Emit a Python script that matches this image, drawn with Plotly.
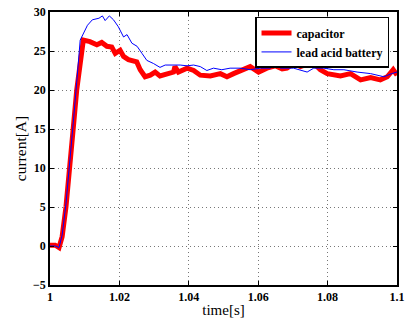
import plotly.graph_objects as go

# capacitor (red)
cap_t = [1.0, 1.0015, 1.0026, 1.0035, 1.0046, 1.0058, 1.0067, 1.0077, 1.0087, 1.0096,
         1.0115, 1.0135, 1.0149, 1.0164, 1.0178, 1.0188, 1.0202, 1.0212, 1.0226, 1.024,
         1.025, 1.026, 1.0274, 1.0289, 1.0303, 1.0317, 1.0337, 1.0356, 1.036, 1.037,
         1.0395, 1.0414, 1.0433, 1.0462, 1.0491, 1.051, 1.0529, 1.0558, 1.0577, 1.0601,
         1.0625, 1.0649, 1.0669, 1.0683, 1.0702, 1.0722, 1.0741, 1.0765, 1.0779, 1.0799,
         1.0837, 1.0866, 1.0895, 1.0924, 1.0952, 1.0972, 1.0989, 1.1]
cap_i = [0.1, 0.1, -0.2, 1.2, 5.0, 10.2, 15.1, 20.0, 23.5, 26.4,
         26.2, 25.8, 26.1, 25.6, 25.5, 24.7, 25.1, 24.3, 23.9, 23.8,
         23.6, 22.6, 21.7, 21.9, 22.3, 21.8, 22.1, 22.3, 23.0, 22.3,
         22.8, 22.5, 21.9, 21.8, 22.1, 21.7, 22.1, 22.6, 23.0, 22.3,
         22.8, 23.1, 22.7, 22.8, 23.4, 23.0, 23.3, 23.2, 22.6, 22.1,
         21.8, 22.1, 21.3, 21.6, 21.3, 21.7, 22.6, 21.9]

# lead acid battery (blue)
bat_t = [1.0, 1.0015, 1.0026, 1.0035, 1.0046, 1.0058, 1.0067, 1.0077, 1.0087, 1.0108,
         1.0122, 1.0141, 1.0151, 1.0159, 1.0171, 1.0183, 1.0197, 1.0212, 1.0222, 1.0236,
         1.0251, 1.0265, 1.0279, 1.0298, 1.0317, 1.0332, 1.0356, 1.0375, 1.0395, 1.0414,
         1.0433, 1.0452, 1.0471, 1.0495, 1.0519, 1.0548, 1.0577, 1.0606, 1.0635, 1.0649,
         1.0664, 1.0702, 1.0741, 1.076, 1.0789, 1.0818, 1.0847, 1.0885, 1.0924, 1.0962,
         1.0985, 1.1]
bat_i = [0.0, 0.0, -0.2, 1.4, 5.4, 10.8, 15.8, 21.0, 26.4, 28.3,
         29.0, 29.2, 29.5, 28.9, 29.5, 29.0, 28.1, 26.8, 27.1, 26.0,
         25.6, 24.7, 23.8, 23.4, 22.9, 23.2, 23.2, 23.2, 23.1, 23.2,
         23.0, 22.5, 22.8, 22.6, 22.8, 22.8, 22.6, 22.8, 22.8, 23.4,
         22.8, 22.8, 22.3, 22.8, 22.8, 22.6, 22.6, 22.3, 22.1, 21.7,
         22.1, 22.3]

x_ticks = [1.0, 1.02, 1.04, 1.06, 1.08, 1.1]
x_labels = ["1", "1.02", "1.04", "1.06", "1.08", "1.1"]
y_ticks = [-5, 0, 5, 10, 15, 20, 25, 30]

fig = go.Figure()
fig.add_trace(go.Scatter(x=cap_t, y=cap_i, mode="lines", name="capacitor",
                         line=dict(color="#ff0000", width=5)))
fig.add_trace(go.Scatter(x=bat_t, y=bat_i, mode="lines", name="lead acid battery",
                         line=dict(color="#0000ff", width=1)))

axis_common = dict(showline=True, linecolor="black", linewidth=1.5, mirror="ticks",
                   ticks="inside", ticklen=4, tickcolor="black", automargin=False,
                   showgrid=True, gridcolor="#777777", griddash="1px,3px", gridwidth=1,
                   zeroline=False,
                   tickfont=dict(family="Liberation Serif", size=12, color="black", weight="bold"))

fig.update_layout(
    template="none",
    width=408, height=322,
    margin=dict(l=50, r=11, t=12, b=37),
    paper_bgcolor="white", plot_bgcolor="white",
    showlegend=True,
    legend=dict(x=0.977, y=0.982, xanchor="right", yanchor="top",
                bordercolor="black", borderwidth=1.5, bgcolor="white",
                font=dict(family="Liberation Serif", size=12, color="black", weight="bold"),
                tracegroupgap=0, itemwidth=30),
    xaxis=dict(range=[1.0, 1.1], tickvals=x_ticks, ticktext=x_labels,
               title=dict(text="time[s]", font=dict(family="Liberation Serif", size=15, color="black"),
                          standoff=1),
               **axis_common),
    yaxis=dict(range=[-5, 30], tickvals=y_ticks,
               title=dict(text="current[A]", font=dict(family="Liberation Serif", size=15.5, color="black"),
                          standoff=3),
               **axis_common),
)

fig.write_html("out.html", config={"displayModeBar": False},
               post_script="document.body.style.margin='0';document.body.style.padding='0';")
